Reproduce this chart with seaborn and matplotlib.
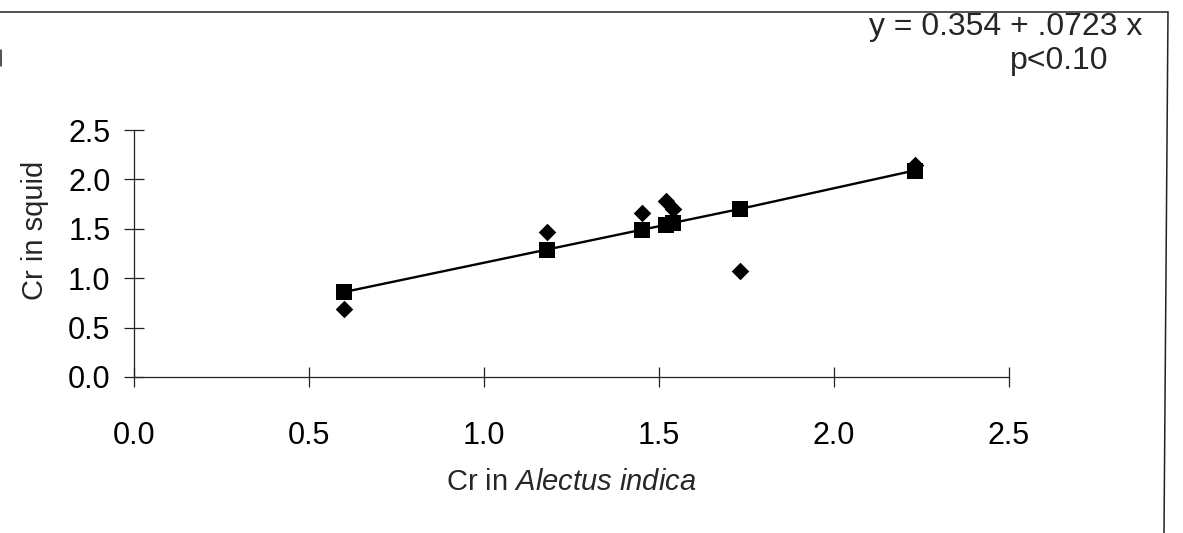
import numpy as np
import pandas as pd
import matplotlib
matplotlib.use("Agg")
import matplotlib.pyplot as plt
from matplotlib.lines import Line2D
import seaborn as sns

# ---- data ----
cr_alectus = [0.60, 1.18, 1.45, 1.52, 1.54, 1.73, 2.23]
cr_squid_obs = [0.69, 1.47, 1.66, 1.78, 1.70, 1.07, 2.15]
cr_squid_fit = [0.86, 1.29, 1.49, 1.54, 1.56, 1.70, 2.09]
x_ticks = [0.0, 0.5, 1.0, 1.5, 2.0, 2.5]
y_ticks = [0.0, 0.5, 1.0, 1.5, 2.0, 2.5]
equation_text = "y = 0.354 + .0723 x"
p_text = "p<0.10"

df = pd.DataFrame({"x": cr_alectus, "obs": cr_squid_obs, "fit": cr_squid_fit})

sns.set_style("white")
plt.rcParams["font.family"] = ["Liberation Sans", "DejaVu Sans"]
plt.rcParams["mathtext.fontset"] = "custom"
plt.rcParams["mathtext.rm"] = "Liberation Sans"
plt.rcParams["mathtext.it"] = "Liberation Sans:italic"

fig = plt.figure(figsize=(11.83, 5.33), dpi=100)
ax = fig.add_axes([134 / 1183, 1 - 377 / 533, 875 / 1183, 247 / 533])

sns.scatterplot(data=df, x="x", y="obs", marker="D", s=80, color="black",
                edgecolor="black", linewidth=0, ax=ax, zorder=3, clip_on=False)
sns.lineplot(data=df, x="x", y="fit", color="black", linewidth=1.7, ax=ax,
             zorder=4, sort=True, estimator=None)
sns.scatterplot(data=df, x="x", y="fit", marker="s", s=130, color="black",
                edgecolor="black", linewidth=0, ax=ax, zorder=5, clip_on=False)

ax.set_xlim(0, 2.5)
ax.set_ylim(0, 2.5)
ax.set_xticks(x_ticks)
ax.set_yticks(y_ticks)
ax.set_xticklabels([f"{v:.1f}" for v in x_ticks])
ax.set_yticklabels([f"{v:.1f}" for v in y_ticks])

for s in ["top", "right"]:
    ax.spines[s].set_visible(False)
for s in ["left", "bottom"]:
    ax.spines[s].set_color("#222222")
    ax.spines[s].set_linewidth(0.9)

ax.tick_params(axis="both", direction="inout", length=14, width=0.9,
               colors="#222222", labelcolor="black", labelsize=22,
               bottom=True, left=True)
ax.tick_params(axis="x", pad=25)
ax.tick_params(axis="y", pad=10)

ax.set_xlabel("Cr in $\\it{Alectus\\ indica}$", fontsize=21)
ax.set_ylabel("Cr in squid", fontsize=21)
ax.xaxis.set_label_coords(0.5, -0.37)
ax.yaxis.set_label_coords(-0.097, 0.595)

fig.text(1142 / 1183, 1 - 27 / 533, equation_text, ha="right", va="center", fontsize=23)
fig.text(1059 / 1183, 1 - 61 / 533, p_text, ha="center", va="center", fontsize=23)

# outer frame fragments (top, right, left stub)
fig.add_artist(Line2D([0, 1168 / 1183], [1 - 12 / 533, 1 - 12 / 533],
                      transform=fig.transFigure, color="#222222", lw=1.1))
fig.add_artist(Line2D([1168 / 1183, 1164 / 1183], [1 - 12 / 533, 0],
                      transform=fig.transFigure, color="#222222", lw=1.1))
fig.add_artist(Line2D([1 / 1183, 1 / 1183], [1 - 50 / 533, 1 - 66 / 533],
                      transform=fig.transFigure, color="#222222", lw=1.1))

fig.savefig("out.png", dpi=100)
